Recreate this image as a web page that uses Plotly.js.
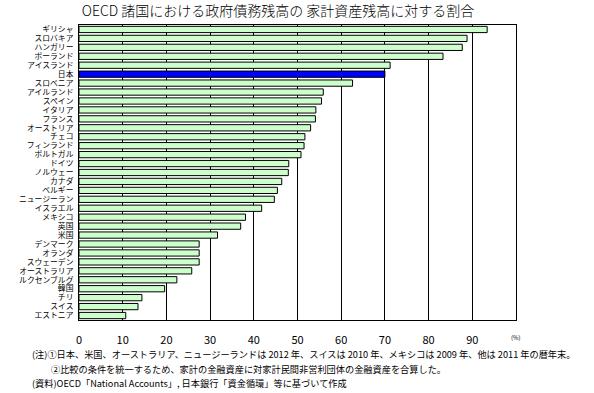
<!DOCTYPE html>
<html><head><meta charset="utf-8">
<script src="https://cdn.plot.ly/plotly-3.0.1.min.js"></script>
<style>html,body{margin:0;padding:0;background:#fff}</style>
</head><body><div id="chart" style="width:594px;height:393px"></div>
<script>
const countries = ["ギリシャ","スロバキア","ハンガリー","ポーランド","アイスランド","日本","スロベニア","アイルランド","スペイン","イタリア","フランス","オーストリア","チェコ","フィンランド","ポルトガル","ドイツ","ノルウェー","カナダ","ベルギー","ニュージーラン","イスラエル","メキシコ","英国","米国","デンマーク","オランダ","スウェーデン","オーストラリア","ルクセンブルグ","韓国","チリ","スイス","エストニア"];
const values = [93.4,88.8,87.7,83.3,71.2,70.0,62.6,55.9,55.5,54.2,54.1,53.0,51.7,51.5,50.8,48.0,47.9,46.4,45.4,44.7,41.8,38.1,37.0,31.7,27.5,27.5,27.5,25.8,22.4,19.6,14.4,13.5,10.7];
const highlight = "日本";
const tickVals = [0,10,20,30,40,50,60,70,80,90];
const tickText = ["0","10","20","30","40","50","60","70","80","90"];
const titleText = "OECD 諸国における政府債務残高の 家計資産残高に対する割合";
const notes = [
  "(注)①日本、米国、オーストラリア、ニュージーランドは 2012 年、スイスは 2010 年、メキシコは 2009 年、他は 2011 年の暦年末。",
  "②比較の条件を統一するため、家計の金融資産に対家計民間非営利団体の金融資産を合算した。",
  "(資料)OECD「National Accounts」, 日本銀行「資金循環」等に基づいて作成"
];

const W=594,H=393,L=79,R=78,T=25,B=73;
const pw=W-L-R, ph=H-T-B;
const px=x=>(x-L)/pw, py=y=>(H-B-y)/ph;
const jp='"Noto Sans CJK JP", "Noto Sans", sans-serif';
const jpTight='"Liberation Sans", "Noto Sans CJK JP", sans-serif';

const colors = countries.map(c => c===highlight ? '#0000ff' : '#ccffcc');

const trace = {
  type:'bar', orientation:'h',
  x: values, y: countries,
  marker:{color:colors, line:{color:'#000', width:1}},
  hoverinfo:'none'
};

const layout = {
  width:W, height:H,
  margin:{l:L, r:R, t:T, b:B, pad:0},
  paper_bgcolor:'#fff', plot_bgcolor:'#fff',
  showlegend:false,
  bargap:0.3,
  title:{text:titleText, font:{family:jp, size:14, color:'#000', weight:300}, xref:'container', yref:'container', x:278/W, xanchor:'center', y:1-11/H, yanchor:'middle'},
  xaxis:{range:[0,100], tickmode:'array', tickvals:tickVals, ticktext:tickText, showgrid:true, gridcolor:'#000', gridwidth:1,
    zeroline:false, showline:true, linecolor:'#000', linewidth:1, mirror:true, ticks:'', ticklabelstandoff:10,
    tickfont:{family:jp, size:11, color:'#000'}, fixedrange:true},
  yaxis:{type:'category', categoryarray:countries, autorange:'reversed', tickmode:'array', tickvals:countries, ticktext:countries,
    showgrid:false, zeroline:false,
    showline:true, linecolor:'#000', linewidth:1, mirror:true, ticks:'', ticklabelstandoff:3,
    tickfont:{family:jpTight, size:7.8, color:'#000'}, fixedrange:true},
  annotations:[
    {text:'(%)', xref:'x', yref:'paper', x:100, y:py(337), xanchor:'center', yanchor:'middle', showarrow:false, font:{family:jp, size:6, color:'#000'}},
    {text:notes[0], xref:'paper', yref:'paper', x:px(30), y:py(354), xanchor:'left', yanchor:'middle', showarrow:false, font:{family:jp, size:9.2, color:'#000'}},
    {text:notes[1], xref:'paper', yref:'paper', x:px(49), y:py(369), xanchor:'left', yanchor:'middle', showarrow:false, font:{family:jp, size:9.2, color:'#000'}},
    {text:notes[2], xref:'paper', yref:'paper', x:px(30), y:py(383), xanchor:'left', yanchor:'middle', showarrow:false, font:{family:jp, size:9.2, color:'#000'}}
  ]
};

Plotly.newPlot('chart',[trace],layout,{staticPlot:true, displayModeBar:false});
</script></body></html>
